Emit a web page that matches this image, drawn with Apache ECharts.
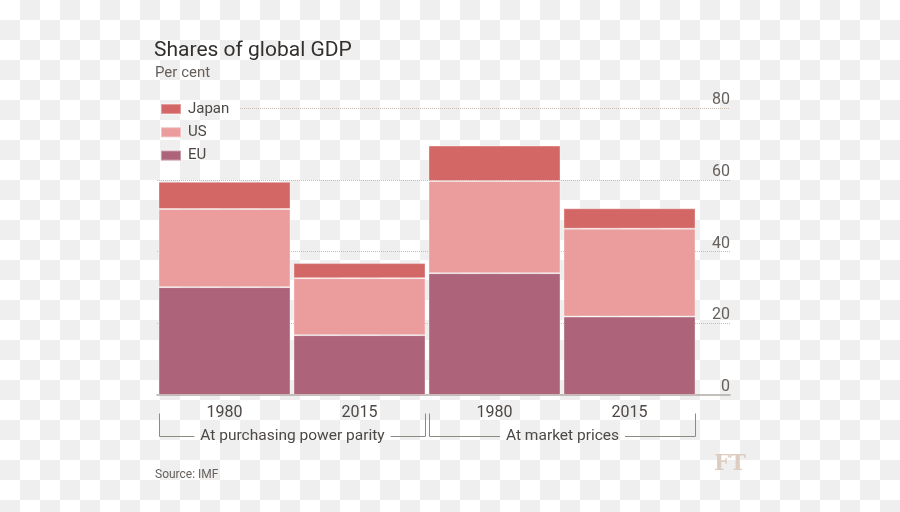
<!DOCTYPE html>
<html>
<head>
<meta charset="utf-8">
<script src="https://cdn.jsdelivr.net/npm/echarts@6/dist/echarts.min.js"></script>
<style>
  html, body { margin: 0; padding: 0; }
  body {
    width: 900px; height: 512px;
    background: repeating-conic-gradient(#efefef 0 25%, #ffffff 0 50%) 0 0 / 40px 40px;
  }
  #chart { width: 900px; height: 512px; }
</style>
</head>
<body>
<div id="chart"></div>
<script>
// ---- data ----
const years = ['1980', '2015', '1980', '2015'];
const groupLabels = ['At purchasing power parity', 'At market prices'];
const groupSpans = [[0, 1], [2, 3]];
const euValues = [30.1, 16.7, 34.0, 21.9];
const usValues = [21.8, 15.9, 25.7, 24.5];
const japanValues = [7.6, 4.2, 9.9, 5.7];
const yTicks = [0, 20, 40, 60, 80];
const titleText = 'Shares of global GDP';
const subtitleText = 'Per cent';
const sourceText = 'Source: IMF';

// ---- style ----
const FONT = 'Roboto, "Noto Sans", sans-serif';
const COLORS = { Japan: '#d26766', US: '#eb9d9d', EU: '#ad647a' };
const GRID_TOP = 108.3, GRID_H = 286.7;
const yMin = yTicks[0], yMax = yTicks[yTicks.length - 1], yStep = yTicks[1] - yTicks[0];

const chart = echarts.init(document.getElementById('chart'), null, { renderer: 'canvas' });

function barSeries(name, values) {
  return {
    name: name, type: 'bar', stack: 'total',
    xAxisIndex: 0, yAxisIndex: 0,
    barCategoryGap: '2.2%',
    itemStyle: { color: COLORS[name], borderColor: 'rgba(255,255,255,0.35)', borderWidth: 1 },
    emphasis: { disabled: true },
    data: values
  };
}

const option = {
  animation: false,
  backgroundColor: 'transparent',
  textStyle: { fontFamily: FONT },
  title: [
    { text: titleText, left: 154, top: 40, padding: 0,
      textStyle: { fontFamily: FONT, fontSize: 21, fontWeight: 'normal', color: '#33302e' } },
    { text: subtitleText, left: 155, top: 65.5, padding: 0,
      textStyle: { fontFamily: FONT, fontSize: 15, fontWeight: 'normal', color: '#66605c' } },
    { text: sourceText, left: 155, top: 469, padding: 0,
      textStyle: { fontFamily: FONT, fontSize: 12, fontWeight: 'normal', color: '#66605c' } }
  ],
  legend: {
    orient: 'vertical', left: 160, top: 101, padding: 0,
    itemWidth: 20, itemHeight: 10, itemGap: 7.3,
    icon: 'rect',
    selectedMode: false,
    data: ['Japan', 'US', 'EU'],
    textStyle: { fontFamily: FONT, fontSize: 15, lineHeight: 16, color: '#4d4845', padding: [0, 0, 0, 2] }
  },
  grid: [
    { left: 157, width: 540, top: GRID_TOP, height: GRID_H },
    { left: 157, right: 170, top: GRID_TOP, height: GRID_H },
    { left: 240, right: 170, top: GRID_TOP, height: GRID_H * (yTicks[4] - yTicks[3]) / (yMax - yMin) }
  ],
  xAxis: [
    { type: 'category', gridIndex: 0, data: years,
      axisLine: { show: false }, axisTick: { show: false },
      axisLabel: { margin: 9.5, fontSize: 16, color: '#4d4845', fontFamily: FONT } },
    { type: 'value', gridIndex: 1, min: 0, max: 1,
      axisLine: { show: true, lineStyle: { color: '#b0aaa5', width: 1.5 } },
      axisTick: { show: false }, axisLabel: { show: false }, splitLine: { show: false } },
    { type: 'value', gridIndex: 2, min: 0, max: 1, show: false }
  ],
  yAxis: [
    { type: 'value', gridIndex: 0, min: yMin, max: yMax, interval: yStep, show: false },
    { type: 'value', gridIndex: 1, position: 'right', min: yMin, max: yMax, interval: yStep,
      axisLine: { show: false }, axisTick: { show: false },
      axisLabel: { inside: true, margin: 0, fontSize: 16, color: '#66605c', fontFamily: FONT,
                   verticalAlign: 'bottom', padding: 0 },
      splitLine: { show: true, showMinLine: false, showMaxLine: false,
                   lineStyle: { color: '#c9bcae', type: 'dotted', width: 1 } } },
    { type: 'value', gridIndex: 2, position: 'right', min: yTicks[3], max: yMax, interval: yStep,
      axisLine: { show: false }, axisTick: { show: false }, axisLabel: { show: false },
      splitLine: { show: true, showMinLine: false, showMaxLine: true,
                   lineStyle: { color: '#c9bcae', type: 'dotted', width: 1 } } }
  ],
  series: [
    barSeries('EU', euValues),
    barSeries('US', usValues),
    barSeries('Japan', japanValues)
  ]
};
chart.setOption(option);

// ---- group brackets below the category labels ----
const GROUP_FONT = '15.5px ' + FONT;
const measureCtx = document.createElement('canvas').getContext('2d');
measureCtx.font = GROUP_FONT;
const c0 = chart.convertToPixel({ xAxisIndex: 0 }, 0);
const c1 = chart.convertToPixel({ xAxisIndex: 0 }, 1);
const band = c1 - c0;
const yTop = 413.5, yLine = 436.5;
const lineStyle = { stroke: '#8f8984', lineWidth: 1 };
const graphics = [];
groupSpans.forEach(function (span, gi) {
  const xa = Math.round(chart.convertToPixel({ xAxisIndex: 0 }, span[0]) - band / 2 + 1.5) + 0.5;
  const xb = Math.round(chart.convertToPixel({ xAxisIndex: 0 }, span[1]) + band / 2 - 1.5) - 0.5;
  const mid = (xa + xb) / 2;
  const tw = measureCtx.measureText(groupLabels[gi]).width;
  const gap = 6;
  graphics.push({ type: 'polyline', silent: true,
    shape: { points: [[xa, yTop], [xa, yLine], [mid - tw / 2 - gap, yLine]] }, style: lineStyle });
  graphics.push({ type: 'polyline', silent: true,
    shape: { points: [[mid + tw / 2 + gap, yLine], [xb, yLine], [xb, yTop]] }, style: lineStyle });
  graphics.push({ type: 'text', silent: true, x: mid, y: yLine - 0.5,
    style: { text: groupLabels[gi], font: GROUP_FONT, fill: '#4d4845', align: 'center', verticalAlign: 'middle' } });
});
graphics.push({ type: 'text', silent: true, x: 714, y: 453,
  style: { text: 'FT', font: 'bold 22px "DejaVu Serif", "Liberation Serif", serif', fill: '#ddcdc0', align: 'left', verticalAlign: 'top' } });
chart.setOption({ graphic: graphics });
</script>
</body>
</html>
